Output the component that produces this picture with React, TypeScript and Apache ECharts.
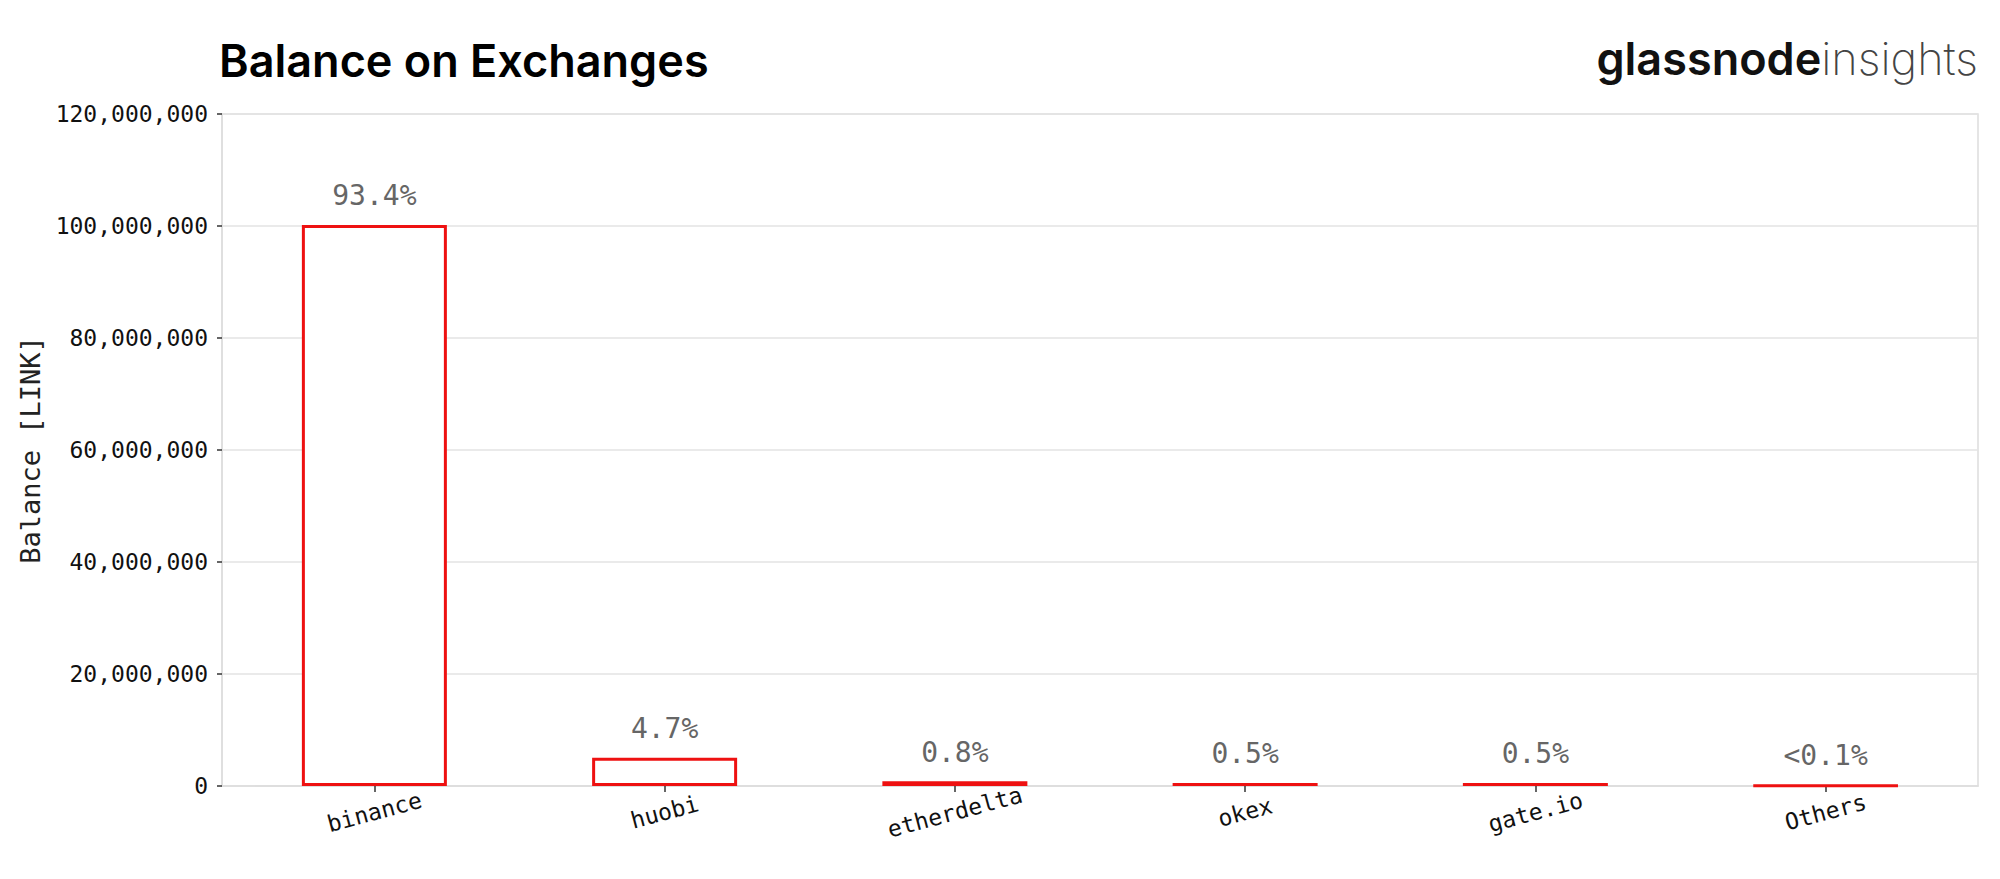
import React, { useEffect, useRef } from "react";
import * as echarts from "echarts";

const categories = ["binance", "huobi", "etherdelta", "okex", "gate.io", "Others"];
const balances = [100200000, 5040000, 860000, 540000, 540000, 50000];
const shareLabels = ["93.4%", "4.7%", "0.8%", "0.5%", "0.5%", "<0.1%"];
const yTicks = [0, 20000000, 40000000, 60000000, 80000000, 100000000, 120000000];

const MONO = "'DejaVu Sans Mono', monospace";
const SANS = "Inter, 'Noto Sans', sans-serif";

export default function App() {
  const ref = useRef<HTMLDivElement>(null);
  useEffect(() => {
    if (!ref.current) return;
    const chart = echarts.init(ref.current, null, { renderer: "svg" });
    const idx = categories.map((_, i) => i);
    chart.setOption({
      animation: false,
      backgroundColor: "#ffffff",
      grid: {
        left: 222,
        right: 22,
        top: 114,
        bottom: 93,
        show: true,
        borderColor: "#dddddd",
        borderWidth: 1.5,
        containLabel: false,
      },
      graphic: [
        {
          type: "text",
          left: 219,
          top: 38,
          style: {
            text: "Balance on Exchanges",
            font: `600 45px ${SANS}`,
            fill: "#000000",
          },
        },
        {
          type: "text",
          right: 22,
          top: 36,
          style: {
            text: "{a|glassnode}{b|insights}",
            rich: {
              a: { fontFamily: SANS, fontWeight: 600, fontSize: 45, fill: "#111111", color: "#111111" },
              b: { fontFamily: SANS, fontWeight: 200, fontSize: 45, fill: "#444444", color: "#444444" },
            },
          },
        },
      ],
      xAxis: {
        type: "value",
        min: -0.525,
        max: 5.525,
        axisLine: { show: true, onZero: false, lineStyle: { color: "#dddddd", width: 1.5 } },
        axisTick: {
          show: true,
          customValues: idx,
          length: 6,
          lineStyle: { color: "#333333", width: 1.5 },
        },
        axisLabel: {
          customValues: idx,
          formatter: (v: number) => categories[Math.round(v)] ?? "",
          rotate: 15,
          align: "center",
          verticalAlign: "middle",
          margin: 26,
          fontFamily: MONO,
          fontSize: 23,
          color: "#111111",
        },
        splitLine: { show: false },
      },
      yAxis: {
        type: "value",
        min: yTicks[0],
        max: yTicks[yTicks.length - 1],
        interval: 20000000,
        name: "Balance [LINK]",
        nameLocation: "middle",
        nameGap: 178,
        nameRotate: 90,
        nameTextStyle: { fontFamily: MONO, fontSize: 27, color: "#222222" },
        axisLine: { show: true, onZero: false, lineStyle: { color: "#dddddd", width: 1.5 } },
        axisTick: { show: true, length: 5, lineStyle: { color: "#333333", width: 1.5 } },
        axisLabel: {
          formatter: (v: number) => v.toLocaleString("en-US"),
          fontFamily: MONO,
          fontSize: 23,
          color: "#111111",
          margin: 14,
        },
        splitLine: { show: true, lineStyle: { color: "#e3e3e3", width: 1.5 } },
      },
      series: [
        {
          type: "bar",
          data: categories.map((_, i) => [i, balances[i]]),
          barWidth: 145,
          itemStyle: { color: "#ffffff", borderColor: "#ee1111", borderWidth: 3 },
          label: {
            show: true,
            position: "top",
            distance: 15,
            formatter: (p: any) => shareLabels[p.dataIndex],
            fontFamily: MONO,
            fontSize: 28,
            color: "#666666",
          },
        },
      ],
    });
    return () => chart.dispose();
  }, []);
  return (
    <div
      ref={ref}
      style={{ position: "fixed", left: 0, top: 0, width: 2000, height: 879, background: "#fff" }}
    />
  );
}
